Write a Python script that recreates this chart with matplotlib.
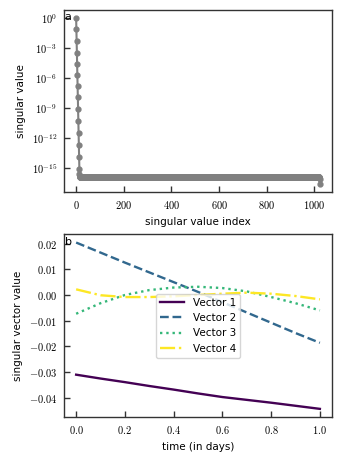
import numpy as np
import matplotlib
matplotlib.use("Agg")
import matplotlib.pyplot as plt
from matplotlib.ticker import FuncFormatter, NullLocator

# singular values (log10)
sv_head_exp = [0.0, -1.13, -2.26, -3.46, -4.59, -5.72, -6.82, -7.91, -9.08,
               -10.24, -11.44, -12.64, -13.84, -15.1, -15.56]
sv_plateau_exp = -15.83
sv_tail_exp = [-15.9, -16.1, -16.56]
n_sv = 1024

# leading singular vectors over one day
t_days = [0.0, 0.1, 0.2, 0.3, 0.4, 0.5, 0.6, 0.7, 0.8, 0.9, 1.0]
vec1 = [-0.0310, -0.0325, -0.0339, -0.0354, -0.0368, -0.0383, -0.0397, -0.0408,
        -0.0419, -0.0431, -0.0443]
vec2 = [0.0204, 0.0165, 0.0126, 0.0088, 0.0050, 0.0012, -0.0028, -0.0068,
        -0.0108, -0.0148, -0.0186]
vec3 = [-0.0073, -0.0032, 0.0000, 0.0019, 0.0029, 0.0032, 0.0027, 0.0014,
        -0.0008, -0.0032, -0.0060]
vec4 = [0.0022, -0.0001, -0.0008, -0.0008, -0.0005, 0.0000, 0.0005, 0.0009,
        0.0005, -0.0004, -0.0017]
vec_labels = ["Vector 1", "Vector 2", "Vector 3", "Vector 4"]
vec_colors = ["#440154", "#31688e", "#35b779", "#fde725"]
vec_styles = ["-", "--", ":", "-."]

plt.rcParams["mathtext.fontset"] = "cm"
plt.rcParams["font.family"] = "DejaVu Sans"
plt.rcParams["font.size"] = 7.5

n_plateau = n_sv - len(sv_head_exp) - len(sv_tail_exp)
sv_exp = np.concatenate([sv_head_exp, [sv_plateau_exp] * n_plateau, sv_tail_exp])
sv = 10.0 ** sv_exp
idx = np.arange(n_sv)

fig = plt.figure(figsize=(3.42, 4.62), dpi=100)
ax1 = fig.add_axes([0.187, 0.584, 0.784, 0.395])
ax2 = fig.add_axes([0.187, 0.097, 0.784, 0.396])

spine_col = "#333333"

def style(ax):
    for s in ax.spines.values():
        s.set_color(spine_col)
        s.set_linewidth(1.0)
    ax.tick_params(direction="in", length=4, width=1, color=spine_col,
                   labelsize=7.5, pad=5)

# panel a
ax1.plot(idx, sv, color="grey", marker="o", markersize=3.5, linewidth=1.5)
ax1.set_yscale("log")
ax1.set_yticks([10.0 ** e for e in [0, -3, -6, -9, -12, -15]])
ax1.yaxis.set_minor_locator(NullLocator())
ax1.yaxis.set_major_formatter(FuncFormatter(lambda v, p: "$10^{%d}$" % int(round(np.log10(v)))))
ax1.set_xticks([0, 200, 400, 600, 800, 1000])
ax1.xaxis.set_major_formatter(FuncFormatter(lambda v, p: "$%d$" % v))
ax1.set_xlabel("singular value index")
ax1.set_ylabel("singular value")
style(ax1)
ax1.text(0.003, 0.985, "a", transform=ax1.transAxes, ha="left", va="top", fontsize=8)

# panel b
for v, lab, c, ls in zip([vec1, vec2, vec3, vec4], vec_labels, vec_colors, vec_styles):
    ax2.plot(t_days, v, color=c, linestyle=ls, linewidth=1.7, label=lab)
ax2.xaxis.set_major_formatter(FuncFormatter(lambda v, p: "$%.1f$" % v))
ax2.yaxis.set_major_formatter(FuncFormatter(lambda v, p: "$%.2f$" % (0 if abs(v) < 1e-12 else v)))
ax2.set_xlabel("time (in days)")
ax2.set_ylabel("singular vector value")
style(ax2)
ax2.legend(loc="center", fontsize=7.5, handlelength=2.3)
ax2.text(0.003, 0.985, "b", transform=ax2.transAxes, ha="left", va="top", fontsize=8)

plt.savefig("out.png", dpi=100)
